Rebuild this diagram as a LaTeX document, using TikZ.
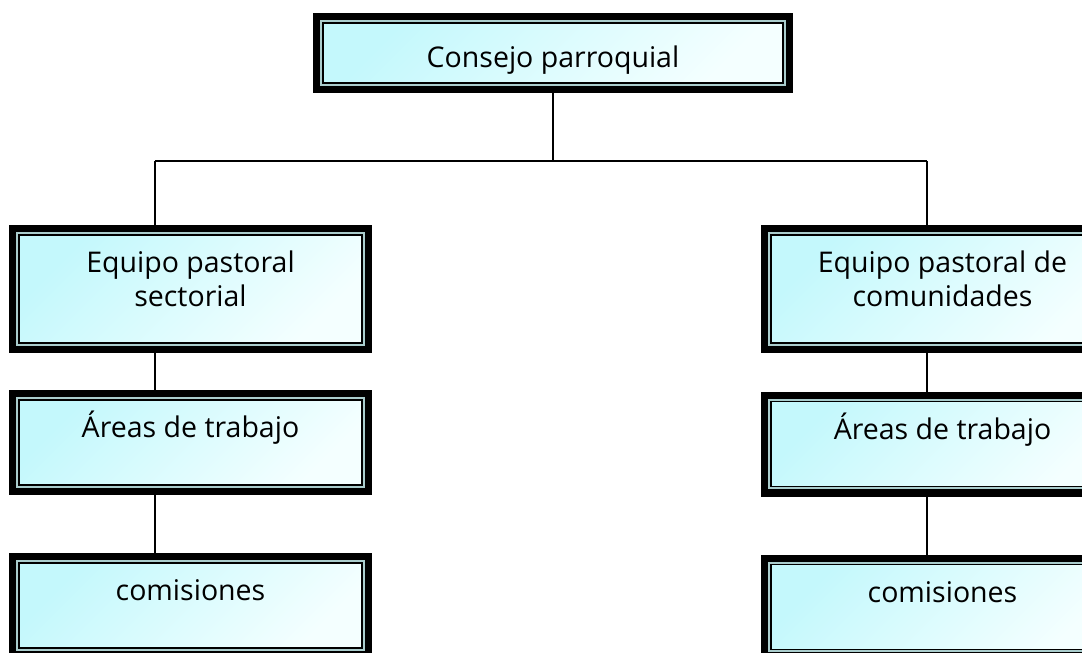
\documentclass[tikz,border=0pt]{standalone}
\usepackage{fontspec}
\setmainfont{Open Sans}
\usetikzlibrary{backgrounds}

\definecolor{boxcyan}{RGB}{196,248,252}
\definecolor{boxwhite}{RGB}{244,255,255}
\definecolor{boxgap}{RGB}{170,205,205}

\begin{document}
\begin{tikzpicture}[x=1pt, y=-1pt,
                    orgbox/.style={draw=black, line width=1.3pt, inner sep=0pt, align=center,
                                   top color=boxcyan, bottom color=boxwhite, shading angle=45,
                                   preaction={draw=black, line width=20pt},
                                   preaction={draw=boxgap, line width=5.4pt},
                                   font=\fontsize{28.5}{34}\selectfont},
                    oneline/.style={text height=22pt, text depth=32pt},
                    twoline/.style={text depth=20pt},
                    link/.style={line width=1.9pt}]

\useasboundingbox (0,0) rectangle (1082,653);
\clip (0,0) rectangle (1082,653);

% Top
\node[orgbox, text height=34pt, text depth=6pt, minimum width=460pt, minimum height=60pt] (top) at (553,53) {Consejo parroquial};

% Left column
\node[orgbox, twoline, minimum width=343pt, minimum height=108pt] (L1) at (190.5,289) {Equipo pastoral\\ sectorial};
\node[orgbox, oneline, minimum width=343pt, minimum height=85pt] (L2) at (190.5,442.5) {Áreas de trabajo};
\node[orgbox, oneline, minimum width=343pt, minimum height=85pt] (L3) at (190.5,605.5) {comisiones};

% Right column
\node[orgbox, twoline, minimum width=343pt, minimum height=108pt] (R1) at (942.5,289) {Equipo pastoral de\\ comunidades};
\node[orgbox, oneline, minimum width=343pt, minimum height=85pt] (R2) at (942.5,444) {Áreas de trabajo};
\node[orgbox, oneline, minimum width=343pt, minimum height=85pt] (R3) at (942.5,607) {comisiones};

% Junctions
\coordinate (jT) at (553,161);
\coordinate (jL) at (155,161);
\coordinate (jR) at (927,161);

\begin{scope}[on background layer]
    \draw[link] (top) -- (jT);
    \draw[link] (jL) -- (jR);
    \draw[link] (jL) -- (jL |- L1.north);
    \draw[link] (jL |- L1.south) -- (jL |- L2.north);
    \draw[link] (jL |- L2.south) -- (jL |- L3.north);
    \draw[link] (jR) -- (jR |- R1.north);
    \draw[link] (jR |- R1.south) -- (jR |- R2.north);
    \draw[link] (jR |- R2.south) -- (jR |- R3.north);
\end{scope}

\end{tikzpicture}
\end{document}
